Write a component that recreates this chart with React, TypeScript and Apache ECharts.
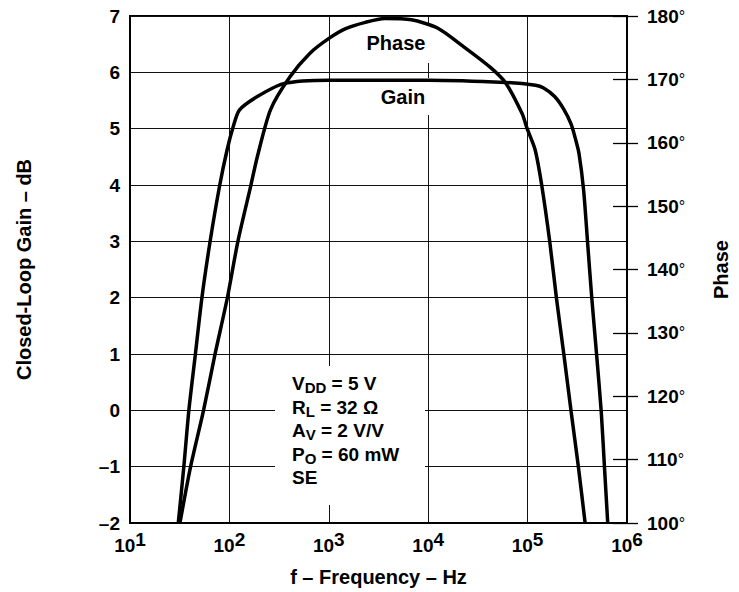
import React, { useEffect, useRef } from "react";
import * as echarts from "echarts";

const FONT = "'Liberation Sans', Arial, Helvetica, sans-serif";

// Gain curve: [frequency Hz, closed-loop gain dB]
const gainFreq = [30.6, 34.8, 39.1, 45.5, 52.9, 64, 80, 95, 109, 126, 191, 351, 1000, 10000, 60000, 120000, 145000, 187000, 230000, 274000, 305000, 329000, 366000, 401000, 442000, 495000, 551000, 593000, 640000];
const gainDb = [-2, -1, 0, 1, 2, 3, 4, 4.63, 5.03, 5.33, 5.57, 5.8, 5.86, 5.86, 5.82, 5.77, 5.72, 5.57, 5.35, 5.08, 4.8, 4.56, 3.91, 2.99, 2.0, 0.98, -0.03, -1.0, -2];

// Phase curve: [frequency Hz, phase degrees]
const phaseFreq = [31.8, 40.6, 55, 71.6, 95.3, 121.6, 164, 191, 259, 407, 643, 1012, 1480, 2330, 3660, 6770, 12400, 22500, 41400, 60400, 88000, 98600, 119000, 138700, 167000, 195000, 232000, 274000, 324000, 379000];
const phaseDeg = [100, 108.8, 117.8, 126.6, 135.5, 144.4, 153.2, 157.8, 165.2, 170.4, 174.1, 176.5, 178.0, 179.0, 179.6, 179.4, 178.1, 175.2, 172.0, 169.4, 164.6, 162.3, 158.9, 153.3, 144.4, 135.5, 126.5, 117.6, 108.9, 100];

const gainTicks = { min: -2, max: 7, interval: 1 };
const phaseTicks = { min: 100, max: 180, interval: 10 };
const freqRange = { min: 10, max: 1000000 };

const xTitle = "f – Frequency – Hz";
const yLeftTitle = "Closed-Loop Gain – dB";
const yRightTitle = "Phase";

export default function App() {
  const ref = useRef<HTMLDivElement>(null);
  useEffect(() => {
    if (!ref.current) return;
    const chart = echarts.init(ref.current, undefined, { renderer: "svg" });
    const gainData = gainFreq.map((f, i) => [f, gainDb[i]]);
    const phaseData = phaseFreq.map((f, i) => [f, phaseDeg[i]]);
    const annot =
      "{b|V}{s|DD}{b| = 5 V}\n{b|R}{s|L}{b| = 32 Ω}\n{b|A}{s|V}{b| = 2 V/V}\n{b|P}{s|O}{b| = 60 mW}\n{b|SE}";
    chart.setOption({
      animation: false,
      backgroundColor: "#fff",
      textStyle: { fontFamily: FONT, color: "#000" },
      grid: {
        left: 130,
        right: 102,
        top: 16,
        bottom: 69,
        show: true,
        borderColor: "#000",
        borderWidth: 2,
        backgroundColor: "transparent",
        z: 0,
      },
      xAxis: {
        type: "log",
        logBase: 10,
        min: freqRange.min,
        max: freqRange.max,
        z: 0,
        axisLine: { show: true, onZero: false, lineStyle: { color: "#000", width: 2 } },
        axisTick: { show: false },
        splitLine: { show: true, lineStyle: { color: "#111", width: 1 } },
        axisLabel: {
          margin: 10,
          fontFamily: FONT,
          fontSize: 19,
          fontWeight: "bold",
          color: "#000",
          formatter: (v: number) => `{b|10}{s|${Math.round(Math.log10(v))}}`,
          rich: {
            b: { fontFamily: FONT, fontSize: 19, fontWeight: "bold", color: "#000", lineHeight: 24 },
            s: { fontFamily: FONT, fontSize: 19, fontWeight: "bold", color: "#000", lineHeight: 12, padding: [0, 0, 12, 0] },
          },
        },
        name: xTitle,
        nameLocation: "middle",
        nameGap: 44,
        nameTextStyle: { fontFamily: FONT, fontSize: 20, fontWeight: "bold", color: "#000" },
      },
      yAxis: [
        {
          type: "value",
          min: gainTicks.min,
          max: gainTicks.max,
          interval: gainTicks.interval,
          position: "left",
          z: 0,
          axisLine: { show: true, onZero: false, lineStyle: { color: "#000", width: 2 } },
          axisTick: { show: false },
          splitLine: { show: true, lineStyle: { color: "#111", width: 1 } },
          axisLabel: {
            margin: 10,
            fontFamily: FONT,
            fontSize: 19,
            fontWeight: "bold",
            color: "#000",
            formatter: (v: number) => (v < 0 ? "–" + Math.abs(v) : String(v)),
          },
          name: yLeftTitle,
          nameLocation: "middle",
          nameGap: 96,
          nameTextStyle: { fontFamily: FONT, fontSize: 20, fontWeight: "bold", color: "#000" },
        },
        {
          type: "value",
          min: phaseTicks.min,
          max: phaseTicks.max,
          interval: phaseTicks.interval,
          position: "right",
          z: 0,
          axisLine: { show: true, onZero: false, lineStyle: { color: "#000", width: 2 } },
          axisTick: { show: true, inside: false, length: 11, lineStyle: { color: "#000", width: 1.3 } },
          splitLine: { show: false },
          axisLabel: {
            margin: 20,
            fontFamily: FONT,
            fontSize: 19,
            fontWeight: "bold",
            color: "#000",
            formatter: (v: number) => `{n|${v}}{d|°}`,
            rich: {
              n: { fontFamily: FONT, fontSize: 19, fontWeight: "bold", color: "#000" },
              d: { fontFamily: FONT, fontSize: 16, fontWeight: "normal", color: "#000" },
            },
          },
          name: yRightTitle,
          nameLocation: "middle",
          nameRotate: 90,
          nameGap: 84,
          nameTextStyle: { fontFamily: FONT, fontSize: 20, fontWeight: "bold", color: "#000" },
        },
        {
          type: "value",
          min: phaseTicks.min,
          max: phaseTicks.max,
          interval: phaseTicks.interval,
          position: "right",
          z: 0,
          axisLine: { show: false, onZero: false },
          axisTick: { show: true, inside: true, length: 14, lineStyle: { color: "#000", width: 1.3 } },
          splitLine: { show: false },
          axisLabel: { show: false },
        },
      ],
      graphic: [
        { type: "rect", z: 5, shape: { x: 358, y: 25, width: 84, height: 38 }, style: { fill: "#fff" } },
        { type: "rect", z: 5, shape: { x: 372, y: 78, width: 70, height: 37 }, style: { fill: "#fff" } },
        { type: "rect", z: 5, shape: { x: 275, y: 366, width: 150, height: 139 }, style: { fill: "#fff" } },
        {
          type: "text",
          z: 6,
          x: 396,
          y: 43,
          style: { text: "Phase", font: `bold 20px ${FONT}`, fill: "#000", align: "center", verticalAlign: "middle" },
        },
        {
          type: "text",
          z: 6,
          x: 403,
          y: 97,
          style: { text: "Gain", font: `bold 20px ${FONT}`, fill: "#000", align: "center", verticalAlign: "middle" },
        },
        {
          type: "text",
          z: 6,
          x: 292,
          y: 372,
          style: {
            text: annot,
            fill: "#000",
            align: "left",
            verticalAlign: "top",
            font: `bold 19px ${FONT}`,
            rich: {
              b: { fontFamily: FONT, fontSize: 19, fontWeight: "bold", fill: "#000", lineHeight: 23.5 },
              s: { fontFamily: FONT, fontSize: 15, fontWeight: "bold", fill: "#000", lineHeight: 15.5, padding: [8, 0, 0, 0] },
            },
          },
        },
      ],
      series: [
        {
          name: "Gain",
          type: "line",
          xAxisIndex: 0,
          yAxisIndex: 0,
          data: gainData,
          smooth: 0.25,
          showSymbol: false,
          z: 10,
          lineStyle: { color: "#000", width: 3.5 },
        },
        {
          name: "Phase",
          type: "line",
          xAxisIndex: 0,
          yAxisIndex: 1,
          data: phaseData,
          smooth: 0.25,
          showSymbol: false,
          z: 10,
          lineStyle: { color: "#000", width: 3.5 },
        },
      ],
    });
    return () => chart.dispose();
  }, []);
  return <div ref={ref} style={{ position: "fixed", left: 0, top: 0, width: 739, height: 592 }} />;
}
